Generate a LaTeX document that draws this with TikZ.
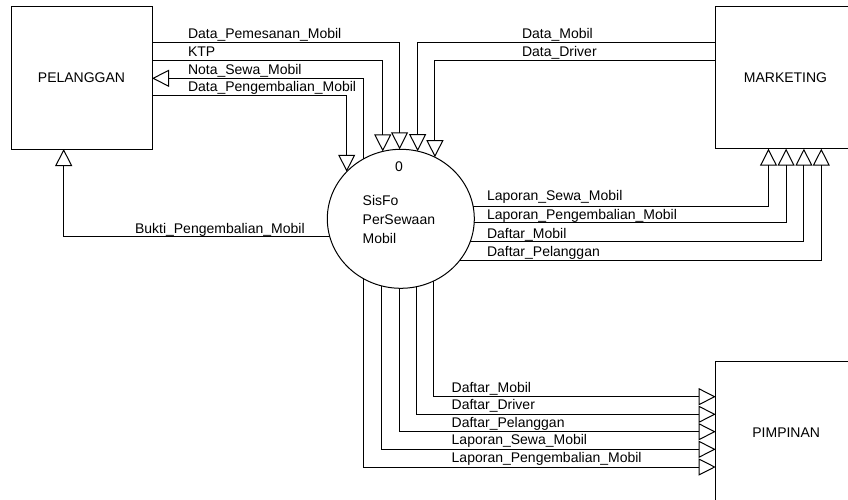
\documentclass[tikz,border=0pt]{standalone}
\usepackage{fontspec}
\setmainfont{Liberation Sans}
\usetikzlibrary{arrows.meta,shapes.geometric}
\begin{document}
\begin{tikzpicture}[x=1pt,y=-1pt,
  every node/.style={outer sep=0pt, inner sep=0pt, font=\fontsize{14}{17}\selectfont},
  entity/.style={draw, line width=1pt, minimum width=141pt, minimum height=142pt},
  process/.style={draw, ellipse, line width=1pt, minimum width=147pt, minimum height=139pt},
  flow/.style={line width=1pt, -{Triangle[open, length=17pt, width=17pt]}},
  lbl/.style={anchor=base west},
]
\fill[white] (0,0) rectangle (848,500);
\clip (0,0) rectangle (848,500);

% external entities
\node[entity] (pel) at (81.5,78) {PELANGGAN};
\node[entity] (mkt) at (785.5,77.7) {MARKETING};
\node[entity] (pim) at (786.2,432.3) {PIMPINAN};

% process
\node[process] (proc) at (400.8,218.8) {};
\node (pnum) at (399,166.5) {0};
\node[lbl] (pn1) at (362.7,205) {SisFo};
\node[lbl] (pn2) at (362.7,224.5) {PerSewaan};
\node[lbl] (pn3) at (362.7,243.5) {Mobil};

% PELANGGAN <-> process
\draw[flow] ([yshift=35.7pt]pel.east) -| (proc.91.48);
\draw[flow] ([yshift=17.3pt]pel.east) -| (proc.105.89);
\draw[flow] (proc.122.67) |- ([yshift=-0.3pt]pel.east);
\draw[flow] ([yshift=-18pt]pel.east) -| (proc.139.04);
\draw[flow] (proc.194.42) -| ([xshift=-17.8pt]pel.south);

\node[lbl] (t1) at (188,38.3) {Data\_Pemesanan\_Mobil};
\node[lbl] (t2) at (188,56.5) {KTP};
\node[lbl] (t3) at (188,74.2) {Nota\_Sewa\_Mobil};
\node[lbl] (t4) at (188,92) {Data\_Pengembalian\_Mobil};
\node[lbl] (t5) at (135,233) {Bukti\_Pengembalian\_Mobil};

% MARKETING <-> process
\draw[flow] ([yshift=35.4pt]mkt.west) -| (proc.76.81);
\draw[flow] ([yshift=17pt]mkt.west) -| (proc.61.82);
\draw[flow] (proc.10.94) -| ([xshift=-17pt]mkt.south);
\draw[flow] (proc.-3.83) -| ([xshift=0.6pt]mkt.south);
\draw[flow] (proc.-18.71) -| ([xshift=18.4pt]mkt.south);
\draw[flow] (proc.-35.68) -| ([xshift=35.8pt]mkt.south);

\node[lbl] (m1) at (522,38.3) {Data\_Mobil};
\node[lbl] (m2) at (522,56.5) {Data\_Driver};
\node[lbl] (m3) at (487,200.9) {Laporan\_Sewa\_Mobil};
\node[lbl] (m4) at (487,219.7) {Laporan\_Pengembalian\_Mobil};
\node[lbl] (m5) at (487,238.2) {Daftar\_Mobil};
\node[lbl] (m6) at (487,256.8) {Daftar\_Pelanggan};

% process -> PIMPINAN
\draw[flow] (proc.-62.45) |- ([yshift=35.6pt]pim.west);
\draw[flow] (proc.-77.14) |- ([yshift=18pt]pim.west);
\draw[flow] (proc.-91.73) |- ([yshift=0.6pt]pim.west);
\draw[flow] (proc.-106.75) |- ([yshift=-17pt]pim.west);
\draw[flow] (proc.-122.38) |- ([yshift=-34.7pt]pim.west);

\node[lbl] (p1) at (451.7,392.2) {Daftar\_Mobil};
\node[lbl] (p2) at (451.7,409.8) {Daftar\_Driver};
\node[lbl] (p3) at (451.7,427.2) {Daftar\_Pelanggan};
\node[lbl] (p4) at (451.7,444.8) {Laporan\_Sewa\_Mobil};
\node[lbl] (p5) at (451.7,462.5) {Laporan\_Pengembalian\_Mobil};
\end{tikzpicture}
\end{document}
